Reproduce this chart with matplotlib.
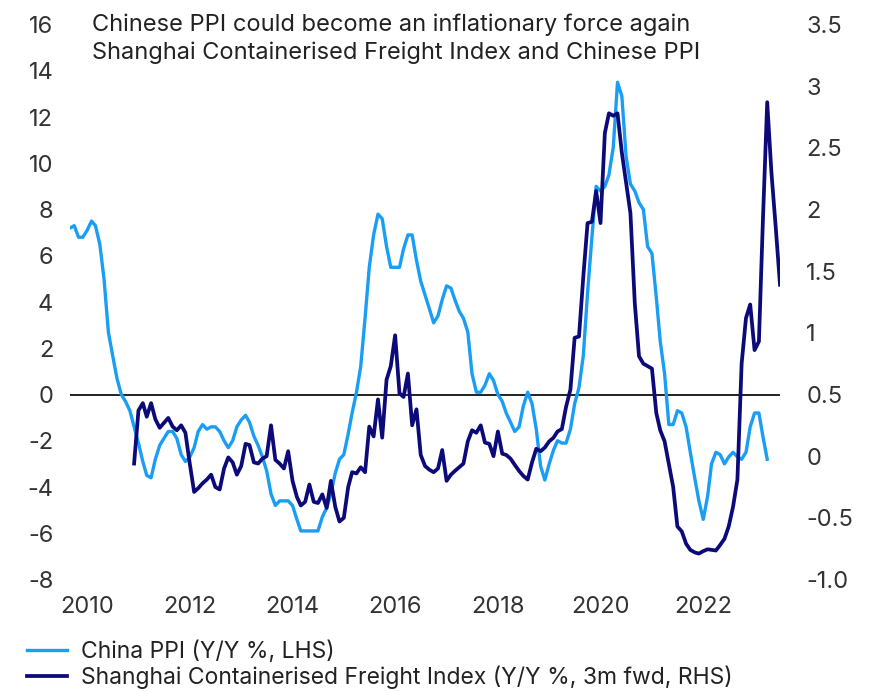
import matplotlib
matplotlib.use("Agg")
import matplotlib.pyplot as plt
import pandas as pd

plt.rcParams['font.family'] = ['Inter', 'DejaVu Sans']
plt.rcParams['axes.unicode_minus'] = False

# China PPI, y/y %, monthly (left axis)
ppi = [
    7.2, 7.3, 6.8, 6.8, 7.1, 7.5, 7.3, 6.5, 5.0, 2.7, 1.7,
    0.7, 0.0, -0.3, -0.7, -1.4, -2.1, -2.9, -3.5, -3.6, -2.8, -2.2, -1.9,
    -1.6, -1.6, -1.9, -2.6, -2.9, -2.7, -2.3, -1.6, -1.3, -1.5, -1.4, -1.4,
    -1.6, -2.0, -2.3, -2.0, -1.4, -1.1, -0.9, -1.2, -1.8, -2.2, -2.7, -3.3,
    -4.3, -4.8, -4.6, -4.6, -4.6, -4.8, -5.4, -5.9, -5.9, -5.9, -5.9, -5.9,
    -5.3, -4.9, -4.3, -3.4, -2.8, -2.6, -1.7, -0.8, 0.1, 1.2, 3.3, 5.5,
    6.9, 7.8, 7.6, 6.4, 5.5, 5.5, 5.5, 6.3, 6.9, 6.9, 5.8, 4.9,
    4.3, 3.7, 3.1, 3.4, 4.1, 4.7, 4.6, 4.1, 3.6, 3.3, 2.7, 0.9,
    0.1, 0.1, 0.4, 0.9, 0.6, 0.0, -0.3, -0.8, -1.2, -1.6, -1.4, -0.5,
    0.1, -0.4, -1.5, -3.1, -3.7, -3.0, -2.4, -2.0, -2.1, -2.1, -1.5, -0.4,
    0.3, 1.7, 4.4, 6.8, 9.0, 8.8, 9.0, 9.5, 10.7, 13.5, 12.9, 10.3,
    9.1, 8.8, 8.3, 8.0, 6.4, 6.1, 4.2, 2.3, 0.9, -1.3, -1.3, -0.7,
    -0.8, -1.4, -2.5, -3.6, -4.6, -5.4, -4.4, -3.0, -2.5, -2.6, -3.0, -2.7,
    -2.5, -2.7, -2.8, -2.5, -1.4, -0.8, -0.8, -1.8, -2.8,
]

# Shanghai Containerised Freight Index, y/y, 3m fwd (right axis)
scfi = [
    -0.06, 0.37, 0.43, 0.32, 0.43, 0.30, 0.23, 0.27, 0.31, 0.24, 0.21, 0.25,
    0.19, -0.06, -0.29, -0.26, -0.22, -0.19, -0.15, -0.25, -0.27, -0.10, -0.01, -0.05,
    -0.15, -0.08, 0.10, 0.09, -0.05, -0.06, -0.02, 0.00, 0.25, -0.03, -0.06, -0.10,
    0.04, -0.20, -0.33, -0.40, -0.37, -0.23, -0.37, -0.38, -0.31, -0.42, -0.20, -0.41,
    -0.53, -0.50, -0.25, -0.13, -0.14, -0.09, -0.13, 0.24, 0.16, 0.46, 0.15, 0.62,
    0.73, 0.98, 0.51, 0.48, 0.67, 0.25, 0.38, 0.01, -0.08, -0.11, -0.13, -0.10,
    0.05, -0.20, -0.15, -0.12, -0.09, -0.06, 0.12, 0.21, 0.19, 0.25, 0.11, 0.10,
    0.00, 0.20, 0.02, 0.01, -0.02, -0.07, -0.12, -0.16, -0.19, -0.05, 0.06, 0.04,
    0.07, 0.12, 0.15, 0.20, 0.22, 0.40, 0.54, 0.96, 0.97, 1.46, 1.89, 1.90,
    2.15, 1.89, 2.62, 2.78, 2.76, 2.78, 2.46, 2.22, 1.97, 1.24, 0.81, 0.75,
    0.73, 0.71, 0.35, 0.21, 0.12, -0.06, -0.25, -0.57, -0.61, -0.71, -0.76, -0.78,
    -0.79, -0.77, -0.755, -0.76, -0.765, -0.72, -0.67, -0.57, -0.41, -0.19, 0.75, 1.12,
    1.23, 0.86, 0.93, 1.90, 2.87, 2.30, 1.85, 1.39,
]

# axis dates as drawn on the chart
ppi_dates = pd.date_range("2009-09-01", periods=len(ppi), freq="MS")
scfi_dates = pd.date_range("2010-12-01", periods=len(scfi), freq="MS")

year_labels = ["2010", "2012", "2014", "2016", "2018", "2020", "2022"]
left_ticks = [-8, -6, -4, -2, 0, 2, 4, 6, 8, 10, 12, 14, 16]
right_ticks = [-1.0, -0.5, 0, 0.5, 1, 1.5, 2, 2.5, 3, 3.5]
right_labels = ["-1.0", "-0.5", "0", "0.5", "1", "1.5", "2", "2.5", "3", "3.5"]

light_blue = "#1a9ef5"
navy = "#0b0a78"
text_col = "#333333"

fig = plt.figure(figsize=(8.78, 6.91), dpi=100)
ax = fig.add_axes([70 / 878, 1 - 579.5 / 691, 710 / 878, 555 / 691])
ax2 = ax.twinx()

ax.axhline(0, color="#222222", lw=1.4, zorder=1)
l1, = ax.plot(ppi_dates, ppi, color=light_blue, lw=2.4, label="China PPI (Y/Y %, LHS)", zorder=2)
l2, = ax2.plot(scfi_dates, scfi, color=navy, lw=2.7,
               label="Shanghai Containerised Freight Index (Y/Y %, 3m fwd, RHS)")

ax.set_xlim(ppi_dates[0], scfi_dates[-1])
ax.set_ylim(-8, 16)
ax2.set_ylim(-1.0, 3.5)

ax.set_xticks(pd.to_datetime([y + "-01-01" for y in year_labels]))
ax.set_xticklabels(year_labels)
ax.set_yticks(left_ticks)
ax.set_yticklabels([str(t) for t in left_ticks])
ax2.set_yticks(right_ticks)
ax2.set_yticklabels(right_labels)

for a in (ax, ax2):
    for s in a.spines.values():
        s.set_visible(False)
ax.tick_params(axis="both", length=0, labelsize=17, colors=text_col)
ax.tick_params(axis="y", pad=12)
ax.tick_params(axis="x", pad=12)
ax2.tick_params(axis="y", length=0, labelsize=17, colors=text_col, pad=19)

fig.text(91.7 / 878, 1 - 31 / 691, "Chinese PPI could become an inflationary force again",
         fontsize=17, color="#222222", va="baseline", ha="left")
fig.text(91.7 / 878, 1 - 59 / 691, "Shanghai Containerised Freight Index and Chinese PPI",
         fontsize=17, color="#222222", va="baseline", ha="left")

fig.legend(handles=[l1, l2], loc="upper left", bbox_to_anchor=(27 / 878, 1 - 641 / 691),
           frameon=False, fontsize=16.5, borderpad=0, borderaxespad=0,
           handlelength=1.75, handletextpad=0.6, labelspacing=0.1, labelcolor="#222222")

fig.savefig("out.png", dpi=100)
